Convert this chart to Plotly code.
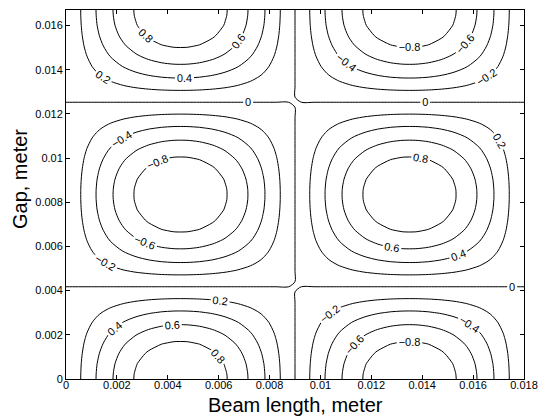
import numpy as np
import plotly.graph_objects as go

# Grid coordinates (meters): edges plus cell-centred interior points
x_grid = np.concatenate([[0.0], np.arange(0.00025, 0.018, 0.0005), [0.018]])
y_grid = np.concatenate([[0.0], (np.arange(5, 360, 10) / 360.0) * 0.0167, [0.0167]])

# Mode shape along the beam length
x_profile = [0.001, 0.087, 0.259, 0.423, 0.574, 0.707, 0.819, 0.906, 0.966, 0.996,
             0.996, 0.966, 0.906, 0.819, 0.707, 0.574, 0.423, 0.259, 0.087,
             -0.087, -0.259, -0.423, -0.574, -0.707, -0.819, -0.906, -0.966, -0.996,
             -0.996, -0.966, -0.906, -0.819, -0.707, -0.574, -0.423, -0.259, -0.087, -0.001]

# Mode shape across the gap
y_profile = [1.0, 0.996, 0.966, 0.906, 0.819, 0.707, 0.574, 0.423, 0.259, 0.087,
             -0.087, -0.259, -0.423, -0.574, -0.707, -0.819, -0.906, -0.966, -0.996,
             -0.996, -0.966, -0.906, -0.819, -0.707, -0.574, -0.423, -0.259, -0.087,
             0.087, 0.259, 0.423, 0.574, 0.707, 0.819, 0.906, 0.966, 0.996, 1.0]

x_tickvals = [0, 0.002, 0.004, 0.006, 0.008, 0.01, 0.012, 0.014, 0.016, 0.018]
x_ticktext = ["0", "0.002", "0.004", "0.006", "0.008", "0.01", "0.012", "0.014", "0.016", "0.018"]
y_tickvals = [0, 0.002, 0.004, 0.006, 0.008, 0.01, 0.012, 0.014, 0.016]
y_ticktext = ["0", "0.002", "0.004", "0.006", "0.008", "0.01", "0.012", "0.014", "0.016"]

z = np.outer(np.array(y_profile), np.array(x_profile))

fig = go.Figure(go.Contour(
    x=x_grid, y=y_grid, z=z,
    contours=dict(start=-0.8, end=0.8, size=0.2, coloring="none",
                  showlabels=True,
                  labelfont=dict(family="Liberation Sans", size=11, color="black"),
                  labelformat=".1~f"),
    line=dict(color="black", width=1, smoothing=0.8),
    showscale=False,
    hoverinfo="skip",
))

axis_common = dict(
    showline=True, linecolor="black", linewidth=1, mirror="ticks",
    ticks="inside", ticklen=4, tickcolor="black", tickwidth=1,
    showgrid=False, zeroline=False,
    tickfont=dict(family="Liberation Sans", size=11, color="black"),
)

title_font = dict(family="Liberation Sans", size=20, color="black")

fig.update_layout(
    width=547, height=417,
    margin=dict(l=66, r=18, t=9, b=38),
    paper_bgcolor="white", plot_bgcolor="white",
    xaxis=dict(range=[0, 0.018], tickmode="array", tickvals=x_tickvals, ticktext=x_ticktext,
               ticklabelstandoff=-4, **axis_common),
    yaxis=dict(range=[0, 0.0167], tickmode="array", tickvals=y_tickvals, ticktext=y_ticktext,
               **axis_common),
    annotations=[
        dict(text="Beam length, meter", font=title_font, showarrow=False,
             xref="paper", yref="paper", x=0.5, y=(379 - 405) / 370.0,
             xanchor="center", yanchor="middle"),
        dict(text="Gap, meter", font=title_font, showarrow=False, textangle=-90,
             xref="paper", yref="paper", x=(19 - 66) / 463.0, y=(379 - 179) / 370.0,
             xanchor="center", yanchor="middle"),
    ],
)

fig.write_html("out.html", config={"displayModeBar": False},
               post_script="document.body.style.margin='0';document.body.style.overflow='hidden';")
